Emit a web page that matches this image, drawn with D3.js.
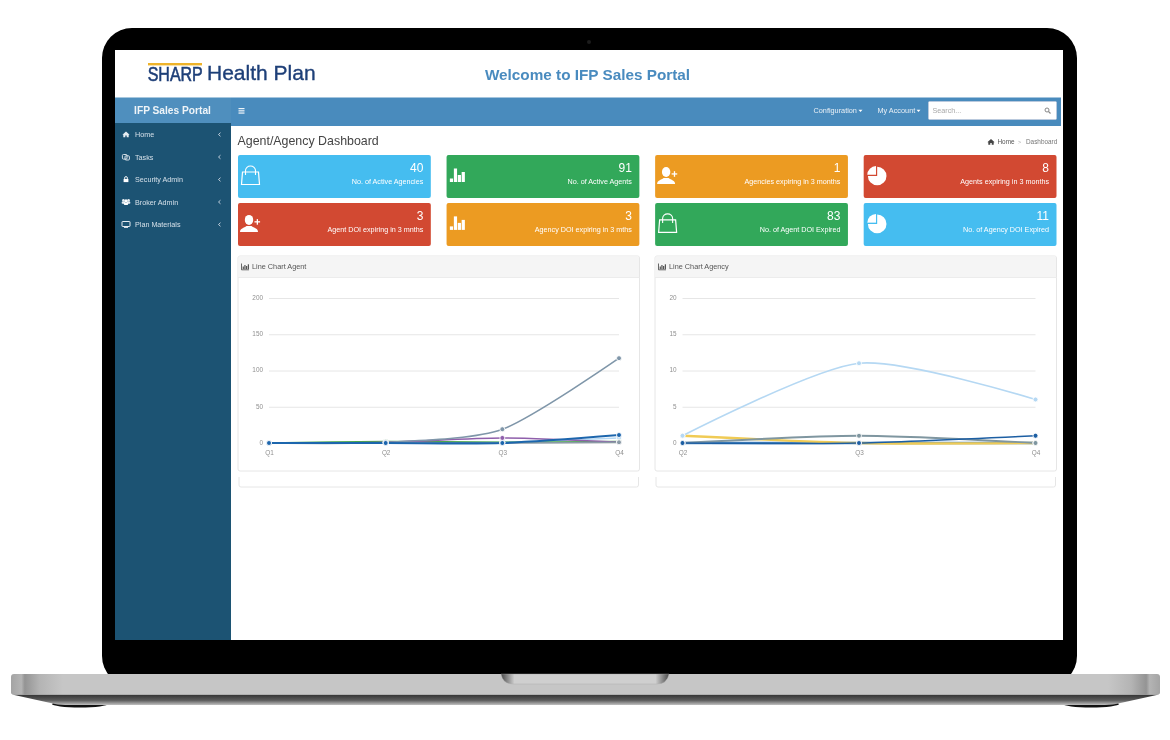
<!DOCTYPE html>
<html>
<head>
<meta charset="utf-8">
<title>IFP Sales Portal</title>
<script src="https://cdn.jsdelivr.net/npm/d3@7/dist/d3.min.js"></script>
<style>
  html, body { margin: 0; padding: 0; background: #fff; }
  svg { display: block; }
  text { font-family: "Liberation Sans", Arial, sans-serif; }
</style>
</head>
<body>
<div id="chart"></div>
<script>
// sidebar and cards
const menuItems = ["Home", "Tasks", "Security Admin", "Broker Admin", "Plan Materials"];
const menuIcons = ["home", "tasks", "lock", "users", "desktop"];
const cardValues = [40, 91, 1, 8, 3, 3, 83, 11];
const cardLabels = [
  "No. of Active Agencies", "No. of Active Agents", "Agencies expiring in 3 months", "Agents expiring in 3 months",
  "Agent DOI expiring in 3 mnths", "Agency DOI expiring in 3 mths", "No. of Agent DOI Expired", "No. of Agency DOI Expired"
];
const cardIcons = ["bag", "bars", "user", "pie", "user", "bars", "bag", "pie"];
const cardColors = ["#45bdf0", "#32a85a", "#ec9b24", "#d24831", "#d24831", "#ec9b24", "#32a85a", "#45bdf0"];

// line chart agent
const agentQuarters = ["Q1", "Q2", "Q3", "Q4"];
const agentTicks = [0, 50, 100, 150, 200];
const agentLightBlue = [0, 0, 1, 7];
const agentGreen = [0, 2, 1, 2];
const agentPurple = [0, 1, 7, 1];
const agentGray = [0, 1, 19, 117];
const agentSlate = [0, 0, 0, 1];
const agentBlue = [0, 0, 0, 11];

// line chart agency
const agencyQuarters = ["Q2", "Q3", "Q4"];
const agencyTicks = [0, 5, 10, 15, 20];
const agencyMidBlue = [0, 0, 0];
const agencyYellow = [1, 0, 0];
const agencyLightBlue = [1, 11, 6];
const agencyGray = [0, 1, 0];
const agencyBlue = [0, 0, 1];

const width = 1170, height = 740;
const svg = d3.select("#chart").append("svg").attr("width", width).attr("height", height);
const defs = svg.append("defs");

function rect(parent, x, y, w, h, fill, r) {
  return parent.append("rect").attr("x", x).attr("y", y).attr("width", w).attr("height", h)
    .attr("fill", fill).attr("rx", r || 0);
}
function label(parent, x, y, str, size, fill, anchor, weight) {
  return parent.append("text").attr("x", x).attr("y", y).text(str)
    .attr("font-size", size).attr("fill", fill)
    .attr("text-anchor", anchor || "start").attr("font-weight", weight || "normal");
}

// the reference is a slightly soft screenshot
defs.append("filter").attr("id", "soft")
  .attr("filterUnits", "userSpaceOnUse").attr("x", 0).attr("y", 0).attr("width", width).attr("height", height)
  .append("feGaussianBlur").attr("stdDeviation", 0.35);

// laptop body
const baseGrad = defs.append("linearGradient").attr("id", "baseGrad");
[[0, "#a4a4a4"], [0.009, "#b4b4b4"], [0.012, "#949494"], [0.025, "#b4b4b4"], [0.045, "#c6c6c6"], [0.955, "#c6c6c6"], [0.975, "#b4b4b4"], [0.988, "#949494"], [0.991, "#b4b4b4"], [1, "#a4a4a4"]]
  .forEach(s => baseGrad.append("stop").attr("offset", s[0]).attr("stop-color", s[1]));
const underGrad = defs.append("linearGradient").attr("id", "underGrad").attr("x2", 0).attr("y2", 1);
[[0, "#333"], [0.55, "#5c5c5c"], [1, "#c0c0c0"]]
  .forEach(s => underGrad.append("stop").attr("offset", s[0]).attr("stop-color", s[1]));
const notchGrad = defs.append("linearGradient").attr("id", "notchGrad");
[[0, "#4a4a4a"], [0.04, "#8c8c8c"], [0.08, "#cfcfcf"], [0.92, "#cfcfcf"], [0.96, "#8c8c8c"], [1, "#4a4a4a"]]
  .forEach(s => notchGrad.append("stop").attr("offset", s[0]).attr("stop-color", s[1]));

svg.append("ellipse").attr("cx", 80).attr("cy", 704).attr("rx", 28).attr("ry", 3.5).attr("fill", "#111");
svg.append("ellipse").attr("cx", 1091).attr("cy", 704).attr("rx", 28).attr("ry", 3.5).attr("fill", "#111");
svg.append("path").attr("d", "M12,694.5 L55,704 Q60,705 70,705 L1100,705 Q1110,705 1116,704 L1159,694.5 Z").attr("fill", "url(#underGrad)");
rect(svg, 102, 28, 975, 658, "#000", 30);
svg.append("path").attr("d", "M14,674 L1157,674 Q1160,674 1160,677 L1160,692.5 Q1160,694.5 1157,694.5 L14,694.5 Q11,694.5 11,692.5 L11,677 Q11,674 14,674 Z").attr("fill", "url(#baseGrad)");
svg.append("path").attr("d", "M501,674 L669,674 Q667,684 657,684 L513,684 Q503,684 501,674 Z").attr("fill", "url(#notchGrad)").attr("stroke", "#a8a8a8").attr("stroke-width", 0.4);
svg.append("circle").attr("cx", 589).attr("cy", 42).attr("r", 2).attr("fill", "#1c1c1c");

// screen
const screen = svg.append("g").attr("filter", "url(#soft)");
rect(screen, 115, 50, 948, 590, "#fff");
rect(screen, 148, 63, 54, 2.4, "#eeb32c");
label(screen, 0, 0, "SHARP", 17, "#1f3f78")
  .attr("font-family", "'Liberation Serif', serif").attr("stroke", "#1f3f78").attr("stroke-width", 0.5)
  .attr("transform", "translate(147.7,80.5) scale(0.94,1.24)");
label(screen, 207, 80, "Health Plan", 21, "#1f3f78").attr("font-family", "'Open Sans', sans-serif")
  .attr("stroke", "#1f3f78").attr("stroke-width", 0.35);
label(screen, 587.5, 79.5, "Welcome to IFP Sales Portal", 15.3, "#4a8bbf", "middle", "bold");

// navbar
rect(screen, 231, 97.5, 830, 28.5, "#4a8bbd");
rect(screen, 115, 97.5, 116, 26, "#4f8fbe");
rect(screen, 115, 123, 116, 517, "#1d5273");
label(screen, 172.5, 114, "IFP Sales Portal", 10.2, "#eef4f8", "middle", "bold");
[-2.2, 0, 2.2].forEach(d => rect(screen, 238.5, 110.3 + d, 6, 1.1, "#fff"));
label(screen, 813.5, 113.2, "Configuration", 7.3, "#e8f0f6");
label(screen, 877.5, 113.2, "My Account", 7.3, "#e8f0f6");
[858.5, 916.5].forEach(x => screen.append("path").attr("d", `M${x},109.8 h4 l-2,2.2 z`).attr("fill", "#fff"));
rect(screen, 928.5, 101.5, 128, 18, "#fff", 1).attr("stroke", "#ccd").attr("stroke-width", 0.5);
label(screen, 932.5, 113.2, "Search...", 7.2, "#a8a8a8");
screen.append("circle").attr("cx", 1047).attr("cy", 110).attr("r", 2).attr("fill", "none").attr("stroke", "#888").attr("stroke-width", 1);
screen.append("path").attr("d", "M1048.5,111.5 l2,2").attr("stroke", "#888").attr("stroke-width", 1.1);

// page heading
label(screen, 237.5, 145, "Agent/Agency Dashboard", 12.4, "#444");
smallIcon(screen, 991, 142, "home", "#444");
label(screen, 997.5, 144.3, "Home", 6.4, "#555");
label(screen, 1018, 144.3, ">", 5.5, "#aaa");
label(screen, 1026, 144.3, "Dashboard", 6.4, "#777");

// sidebar menu
const menuY = d3.scalePoint().domain(d3.range(menuItems.length)).range([134.5, 224.5]);
const menu = screen.selectAll("g.menu").data(menuItems).join("g").attr("class", "menu")
  .attr("transform", (d, i) => `translate(0,${menuY(i)})`);
menu.append("text").attr("x", 135).attr("y", 2.5).text(d => d).attr("font-size", 7.2).attr("fill", "#d3e0e8");
menu.append("path").attr("d", "M220.5,-1.8 L218.5,0 L220.5,1.8").attr("fill", "none").attr("stroke", "#cfdde6").attr("stroke-width", 0.9);
menu.each(function (d, i) { smallIcon(d3.select(this), 126, 0, menuIcons[i], "#e6edf2"); });

function smallIcon(g, x, y, name, c) {
  const i = g.append("g").attr("transform", `translate(${x},${y})`);
  if (name === "home") {
    i.append("path").attr("d", "M-3.6,0.3 L0,-3 L3.6,0.3 L2.7,0.3 L2.7,2.8 L0.7,2.8 L0.7,1 L-0.7,1 L-0.7,2.8 L-2.7,2.8 L-2.7,0.3 Z").attr("fill", c);
  } else if (name === "tasks") {
    i.append("rect").attr("x", -3.6).attr("y", -2.5).attr("width", 4.6).attr("height", 4.6).attr("rx", 1).attr("fill", "none").attr("stroke", c).attr("stroke-width", 0.9);
    i.append("rect").attr("x", -1).attr("y", -1.2).attr("width", 4.4).attr("height", 4.2).attr("rx", 1).attr("fill", "none").attr("stroke", c).attr("stroke-width", 0.9);
  } else if (name === "lock") {
    i.append("rect").attr("x", -2.4).attr("y", -0.6).attr("width", 4.8).attr("height", 3.2).attr("fill", "#fff");
    i.append("path").attr("d", "M-1.4,-0.6 V-1.5 A1.4,1.4 0 0 1 1.4,-1.5 V-0.6").attr("fill", "none").attr("stroke", "#fff").attr("stroke-width", 0.9);
  } else if (name === "users") {
    [-2.6, 2.6].forEach(dx => {
      i.append("circle").attr("cx", dx).attr("cy", -1.6).attr("r", 1.3).attr("fill", c);
      i.append("rect").attr("x", dx - 1.7).attr("y", -0.4).attr("width", 3.4).attr("height", 2.2).attr("rx", 0.8).attr("fill", c);
    });
    i.append("circle").attr("cx", 0).attr("cy", -1.1).attr("r", 1.7).attr("fill", "#fff");
    i.append("rect").attr("x", -2.2).attr("y", 0.5).attr("width", 4.4).attr("height", 2.6).attr("rx", 1).attr("fill", "#fff");
  } else {
    i.append("rect").attr("x", -4).attr("y", -3).attr("width", 8).attr("height", 5).attr("rx", 0.5).attr("fill", "none").attr("stroke", c).attr("stroke-width", 1);
    i.append("rect").attr("x", -2).attr("y", 2.6).attr("width", 4).attr("height", 0.9).attr("fill", c);
  }
}

// stat cards
const cardX = d3.scaleBand().domain(d3.range(4)).range([238, 1056.5]).paddingInner(0.0755);
const cardY = d3.scaleBand().domain(d3.range(2)).range([155, 246]).paddingInner(0.1);
const cards = screen.selectAll("g.card").data(cardValues).join("g").attr("class", "card")
  .attr("transform", (d, i) => `translate(${cardX(i % 4)},${cardY(Math.floor(i / 4))})`);
cards.append("rect").attr("width", cardX.bandwidth()).attr("height", cardY.bandwidth()).attr("rx", 2)
  .attr("fill", (d, i) => cardColors[i]);
cards.append("text").attr("x", cardX.bandwidth() - 7.5).attr("y", 17).attr("text-anchor", "end")
  .attr("font-size", 12).attr("fill", "#fff").text(d => d);
cards.append("text").attr("x", cardX.bandwidth() - 7.5).attr("y", 28.7).attr("text-anchor", "end")
  .attr("font-size", 7.2).attr("fill", "#fff").text((d, i) => cardLabels[i]);
cards.each(function (d, i) { cardIcon(d3.select(this), cardIcons[i], cardColors[i]); });

function cardIcon(g, name, bg) {
  if (name === "bag") {
    g.append("path").attr("d", "M4.5,17 H20.5 L21.5,29.5 H3.5 Z").attr("fill", "none").attr("stroke", "#fff").attr("stroke-width", 1.2);
    g.append("path").attr("d", "M7.5,20 V15.5 A5,4.5 0 0 1 17.5,15.5 V20").attr("fill", "none").attr("stroke", "#fff").attr("stroke-width", 1.1);
  } else if (name === "bars") {
    [[3.3, 23.5, 3.2, 3.5], [7.3, 13.5, 3.2, 13.5], [11.2, 20, 3.2, 7], [15.1, 17, 3.2, 10]].forEach(b => rect(g, b[0], b[1], b[2], b[3], "#fff"));
  } else if (name === "user") {
    g.append("ellipse").attr("cx", 11).attr("cy", 17).attr("rx", 4.2).attr("ry", 5).attr("fill", "#fff");
    g.append("path").attr("d", "M2,29 C2,25.5 6,25 8.5,23 H13.5 C16,25 20,25.5 20,29 Z").attr("fill", "#fff");
    rect(g, 16.5, 18.3, 5.6, 1.3, "#fff");
    rect(g, 18.7, 16.2, 1.3, 5.6, "#fff");
  } else {
    const arc = d3.arc().innerRadius(0).outerRadius(9.3);
    g.append("path").attr("transform", "translate(13.5,21)").attr("fill", "#fff")
      .attr("d", arc({ startAngle: 0, endAngle: 1.5 * Math.PI }));
    g.append("path").attr("transform", "translate(12.3,19.8)").attr("fill", "#fff")
      .attr("d", arc.outerRadius(8.7)({ startAngle: 1.5 * Math.PI, endAngle: 2 * Math.PI }));
    g.append("path").attr("d", "M3.5,20.5 H12.8 V11").attr("fill", "none").attr("stroke", bg).attr("stroke-width", 0.9);
  }
}

// line chart panels
function linePanel(opts) {
  const g = screen.append("g").attr("transform", `translate(${opts.x},256)`);
  rect(g, 0, 0, 401.5, 215, "#fff", 2).attr("stroke", "#e6e6e6").attr("stroke-width", 1);
  rect(g, 0.5, 0.5, 400.5, 21, "#f5f5f5");
  g.append("line").attr("x1", 0).attr("x2", 401.5).attr("y1", 21.5).attr("y2", 21.5).attr("stroke", "#ececec");
  // empty panel under the chart, only its sides and bottom show
  g.append("path").attr("d", "M1,221 V229 Q1,231 3,231 H398.5 Q400.5,231 400.5,229 V221")
    .attr("fill", "none").attr("stroke", "#e6e6e6");

  const ic = g.append("g").attr("transform", "translate(3.5,7.5)");
  ic.append("path").attr("d", "M0,0 V6.3 H7.5").attr("fill", "none").attr("stroke", "#444").attr("stroke-width", 0.8);
  [[1.2, 3], [2.9, 1.5], [4.6, 2.5], [6.3, 0.8]].forEach(b => rect(ic, b[0], b[1], 1.1, 5.6 - b[1], "#444"));
  label(g, 14, 13.2, opts.title, 7.3, "#555");

  const x = d3.scalePoint().domain(opts.quarters).range([opts.left, opts.right]);
  const y = d3.scaleLinear().domain([0, d3.max(opts.ticks)]).range([187, 42]);

  const yAxis = g.append("g").attr("transform", `translate(${opts.left},0)`)
    .call(d3.axisLeft(y).tickValues(opts.ticks).tickSize(-(opts.right - opts.left)).tickPadding(6));
  yAxis.select(".domain").remove();
  yAxis.selectAll("line").attr("stroke", "#e6e6e6").attr("stroke-width", 1);
  yAxis.selectAll("text").attr("font-size", 6.4).attr("fill", "#8f8f8f").attr("dy", "0.22em")
    .attr("font-family", "'Liberation Sans', Arial, sans-serif");

  const xAxis = g.append("g").attr("transform", "translate(0,187)")
    .call(d3.axisBottom(x).tickSize(0).tickPadding(7));
  xAxis.select(".domain").remove();
  xAxis.selectAll("text").attr("font-size", 6.4).attr("fill", "#8f8f8f")
    .attr("font-family", "'Liberation Sans', Arial, sans-serif");

  const line = d3.line().x((d, i) => x(opts.quarters[i])).y(d => y(d))
    .curve(d3.curveCardinal.tension(0.25));

  opts.series.forEach(s => {
    g.append("path").datum(s.values).attr("d", line).attr("fill", "none")
      .attr("stroke", s.color).attr("stroke-width", s.width || 1.6);
  });
  opts.series.forEach(s => {
    g.selectAll(null).data(s.values).join("circle")
      .attr("cx", (d, i) => x(opts.quarters[i])).attr("cy", d => y(d)).attr("r", 2.5)
      .attr("fill", s.color).attr("stroke", "#fff").attr("stroke-width", 0.9);
  });
}

linePanel({
  x: 238, title: "Line Chart Agent", quarters: agentQuarters, ticks: agentTicks, left: 31, right: 381,
  series: [
    { values: agentLightBlue, color: "#b5d8f3" },
    { values: agentGreen, color: "#4ba64d" },
    { values: agentPurple, color: "#8f5fab" },
    { values: agentSlate, color: "#8a9aa6" },
    { values: agentGray, color: "#7f96a9" },
    { values: agentBlue, color: "#1f66ad", width: 2.1 }
  ]
});
linePanel({
  x: 655, title: "Line Chart Agency", quarters: agencyQuarters, ticks: agencyTicks, left: 27.5, right: 380.5,
  series: [
    { values: agencyMidBlue, color: "#4f8ac4", width: 2.4 },
    { values: agencyYellow, color: "#f0cb55", width: 2.4 },
    { values: agencyLightBlue, color: "#b5d8f3" },
    { values: agencyGray, color: "#7f96a0", width: 1.9 },
    { values: agencyBlue, color: "#1d5ea3", width: 1.6 }
  ]
});
</script>
</body>
</html>
